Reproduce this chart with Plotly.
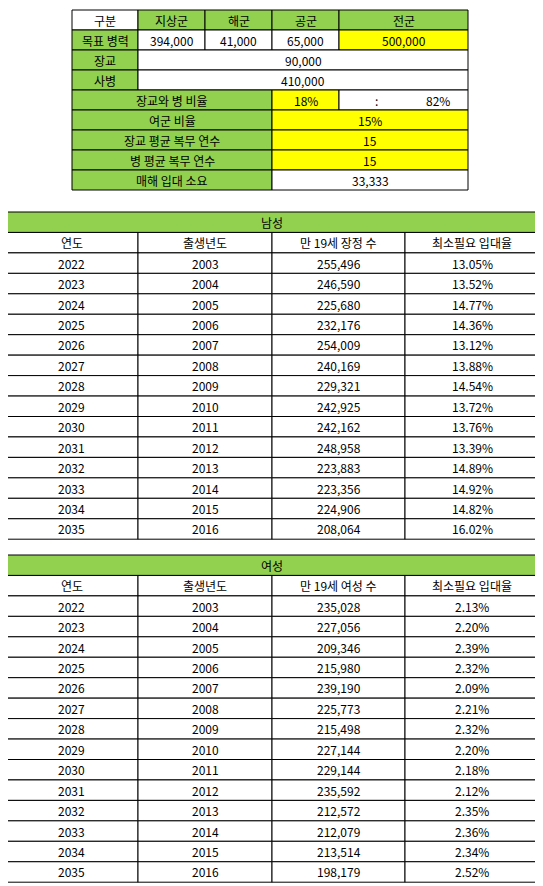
import plotly.graph_objects as go

GREEN = "#92D050"
YELLOW = "#FFFF00"
WHITE = "#FFFFFF"
FONT = "Noto Sans CJK KR"

# top summary table
branches = ["지상군", "해군", "공군", "전군"]
target = ["394,000", "41,000", "65,000", "500,000"]
officers = "90,000"
soldiers = "410,000"
ratio_officer = "18%"
ratio_soldier = "82%"
female_ratio = "15%"
officer_years = "15"
soldier_years = "15"
yearly_need = "33,333"

# lower tables
years = list(range(2022, 2036))
birth_years = list(range(2003, 2017))
male_count = ["255,496", "246,590", "225,680", "232,176", "254,009", "240,169", "229,321",
              "242,925", "242,162", "248,958", "223,883", "223,356", "224,906", "208,064"]
male_rate = ["13.05%", "13.52%", "14.77%", "14.36%", "13.12%", "13.88%", "14.54%",
             "13.72%", "13.76%", "13.39%", "14.89%", "14.92%", "14.82%", "16.02%"]
female_count = ["235,028", "227,056", "209,346", "215,980", "239,190", "225,773", "215,498",
                "227,144", "229,144", "235,592", "212,572", "212,079", "213,514", "198,179"]
female_rate = ["2.13%", "2.20%", "2.39%", "2.32%", "2.09%", "2.21%", "2.32%",
               "2.20%", "2.18%", "2.12%", "2.35%", "2.36%", "2.34%", "2.52%"]

W, H = 543, 886
PAD = 8  # page body margin in the browser
shapes, annos = [], []
tfont = dict(family=FONT, size=12, color="#000")


def cell(x0, x1, y0, y1, text="", fill=WHITE, tx=None):
    shapes.append(dict(type="rect", x0=x0, x1=x1, y0=y0, y1=y1, xref="x", yref="y",
                       fillcolor=fill, line=dict(color="#000000", width=1), layer="below"))
    if text != "":
        annos.append(dict(x=(x0 + x1) / 2 if tx is None else tx, y=(y0 + y1) / 2, text=text,
                          showarrow=False, xref="x", yref="y", font=tfont))


# top table
cx = [72, 138, 205, 272, 339, 468]
ty0, rh = 10, 20
r = lambda i: (ty0 + i * rh, ty0 + (i + 1) * rh)
y0, y1 = r(0)
cell(cx[0], cx[1], y0, y1, "구분")
for i, b in enumerate(branches):
    cell(cx[i + 1], cx[i + 2], y0, y1, b, GREEN)
y0, y1 = r(1)
cell(cx[0], cx[1], y0, y1, "목표 병력", GREEN)
for i, v in enumerate(target):
    cell(cx[i + 1], cx[i + 2], y0, y1, v, YELLOW if i == 3 else WHITE)
for i, (lab, v) in enumerate([("장교", officers), ("사병", soldiers)]):
    y0, y1 = r(2 + i)
    cell(cx[0], cx[1], y0, y1, lab, GREEN)
    cell(cx[1], cx[5], y0, y1, v)
y0, y1 = r(4)
cell(cx[0], cx[3], y0, y1, "장교와 병 비율", GREEN)
cell(cx[3], cx[4], y0, y1, ratio_officer, YELLOW)
cell(cx[4], cx[5], y0, y1, ":", tx=376)
annos.append(dict(x=438, y=(y0 + y1) / 2, text=ratio_soldier, showarrow=False, xref="x", yref="y",
                  font=tfont))
for i, (lab, v, f) in enumerate([("여군 비율", female_ratio, YELLOW),
                                 ("장교 평균 복무 연수", officer_years, YELLOW),
                                 ("병 평균 복무 연수", soldier_years, YELLOW),
                                 ("매해 입대 소요", yearly_need, WHITE)]):
    y0, y1 = r(5 + i)
    cell(cx[0], cx[3], y0, y1, lab, GREEN)
    cell(cx[3], cx[5], y0, y1, v, f)

# lower tables
lx = [5, 138, 272, 405, 539]
lrh = 20.45


def people_table(top, title, head3, counts, rates):
    cell(lx[0], lx[4], top, top + lrh, title, GREEN)
    heads = ["연도", "출생년도", head3, "최소필요 입대율"]
    for j, h in enumerate(heads):
        cell(lx[j], lx[j + 1], top + lrh, top + 2 * lrh, h)
    for i in range(len(years)):
        a = top + (i + 2) * lrh
        vals = [str(years[i]), str(birth_years[i]), counts[i], rates[i]]
        for j, v in enumerate(vals):
            cell(lx[j], lx[j + 1], a, a + lrh, v)


people_table(212, "남성", "만 19세 장정 수", male_count, male_rate)
people_table(555, "여성", "만 19세 여성 수", female_count, female_rate)

fig = go.Figure()
fig.update_layout(width=W, height=H, margin=dict(l=0, r=0, t=0, b=0),
                  plot_bgcolor="white", paper_bgcolor="white",
                  shapes=shapes, annotations=annos, showlegend=False)
fig.update_xaxes(range=[PAD, W + PAD], visible=False, fixedrange=True)
fig.update_yaxes(range=[H + PAD, PAD], visible=False, fixedrange=True)
fig.write_html("out.html")
